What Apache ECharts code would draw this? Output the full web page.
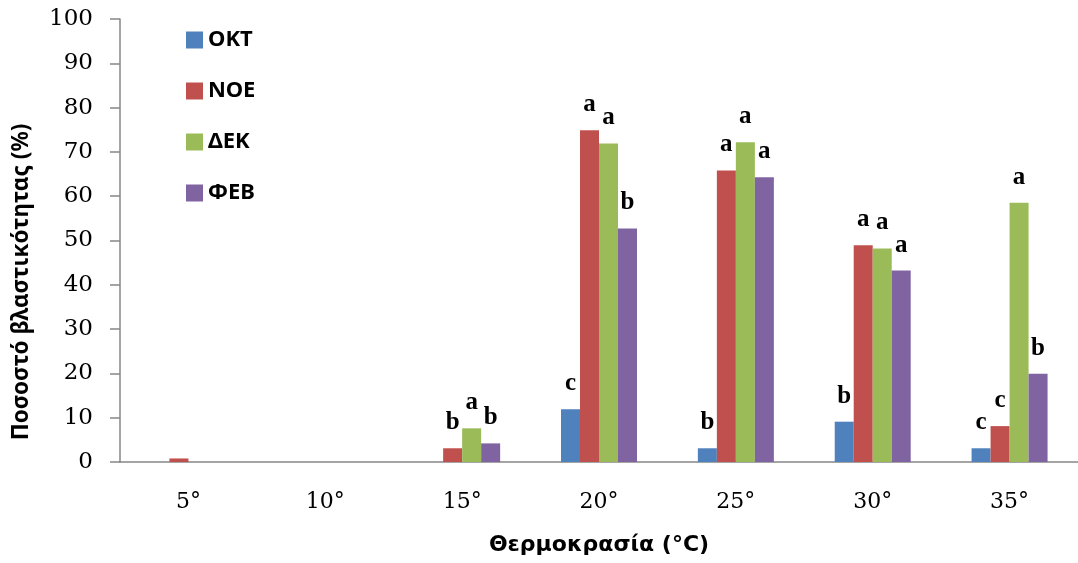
<!DOCTYPE html>
<html>
<head>
<meta charset="utf-8">
<title>Ποσοστό βλαστικότητας</title>
<script src="https://cdn.jsdelivr.net/npm/echarts@6/dist/echarts.min.js"></script>
<style>
  html, body { margin: 0; padding: 0; background: #ffffff; }
  #chart { width: 1078px; height: 563px; }
</style>
</head>
<body>
<div id="chart"></div>
<script>
// Temperatures of the germination trials
const temperatures = ['5°', '10°', '15°', '20°', '25°', '30°', '35°'];

// Germination percentage per collection month
const okt = [0, 0, 0, 11.9, 3.1, 9.1, 3.1];
const noe = [0.8, 0, 3.1, 74.9, 65.8, 48.9, 8.1];
const dek = [0, 0, 7.6, 71.9, 72.2, 48.2, 58.5];
const feb = [0, 0, 4.2, 52.7, 64.3, 43.2, 19.9];

// Significance letters above each bar
const oktLetters = ['', '', '', 'c', 'b', 'b', 'c'];
const noeLetters = ['', '', 'b', 'a', 'a', 'a', 'c'];
const dekLetters = ['', '', 'a', 'a', 'a', 'a', 'a'];
const febLetters = ['', '', 'b', 'b', 'a', 'a', 'b'];

// Y axis tick range
const yMin = 0, yMax = 100, yStep = 10;

const seriesNames = ['ΟΚΤ', 'ΝΟΕ', 'ΔΕΚ', 'ΦΕΒ'];
const seriesColors = ['#4F81BD', '#C0504D', '#9BBB59', '#8064A2'];
const seriesValues = [okt, noe, dek, feb];
const seriesLetters = [oktLetters, noeLetters, dekLetters, febLetters];

const axisGray = '#868686';

const chart = echarts.init(document.getElementById('chart'), null, { renderer: 'canvas' });

const series = seriesNames.map((name, i) => ({
  name: name,
  type: 'bar',
  data: seriesValues[i],
  barWidth: 19,
  barGap: '0%',
  itemStyle: { color: seriesColors[i] },
  label: {
    show: true,
    position: 'top',
    distance: 13,
    formatter: p => seriesLetters[i][p.dataIndex],
    fontFamily: 'Liberation Serif',
    fontWeight: 'bold',
    fontSize: 25,
    color: '#000'
  }
}));

chart.setOption({
  backgroundColor: '#ffffff',
  animation: false,
  grid: { left: 120, top: 19, width: 963, bottom: 101, containLabel: false },
  legend: {
    orient: 'vertical',
    left: 181,
    top: 24,
    itemWidth: 17,
    itemHeight: 17,
    itemGap: 29,
    icon: 'rect',
    data: seriesNames,
    textStyle: {
      fontFamily: 'Noto Sans',
      fontWeight: 'bold',
      fontSize: 22,
      lineHeight: 20,
      color: '#000'
    }
  },
  xAxis: {
    type: 'category',
    data: temperatures,
    axisLine: { lineStyle: { color: axisGray, width: 1.5 } },
    axisTick: { show: false },
    axisLabel: {
      margin: 29,
      fontFamily: 'DejaVu Serif',
      fontSize: 22,
      color: '#000'
    },
    name: 'Θερμοκρασία (°C)',
    nameLocation: 'middle',
    nameGap: 72,
    nameTextStyle: {
      fontFamily: 'DejaVu Sans',
      fontWeight: 'bold',
      fontSize: 22,
      color: '#000'
    }
  },
  yAxis: {
    type: 'value',
    min: yMin,
    max: yMax,
    interval: yStep,
    splitLine: { show: false },
    axisLine: { show: true, lineStyle: { color: axisGray, width: 1.5 } },
    axisTick: { show: true, inside: false, length: 10, lineStyle: { color: axisGray, width: 1.5 } },
    axisLabel: {
      margin: 27,
      fontFamily: 'DejaVu Serif',
      fontSize: 23,
      color: '#000'
    }
  },
  graphic: [{
    type: 'text',
    x: 22,
    y: 282,
    rotation: Math.PI / 2,
    style: {
      text: 'Ποσοστό βλαστικότητας (%)',
      fontFamily: 'Noto Sans',
      fontWeight: 'bold',
      fontSize: 22.5,
      fill: '#000',
      textAlign: 'center',
      textVerticalAlign: 'middle'
    }
  }],
  series: series
});
</script>
</body>
</html>
